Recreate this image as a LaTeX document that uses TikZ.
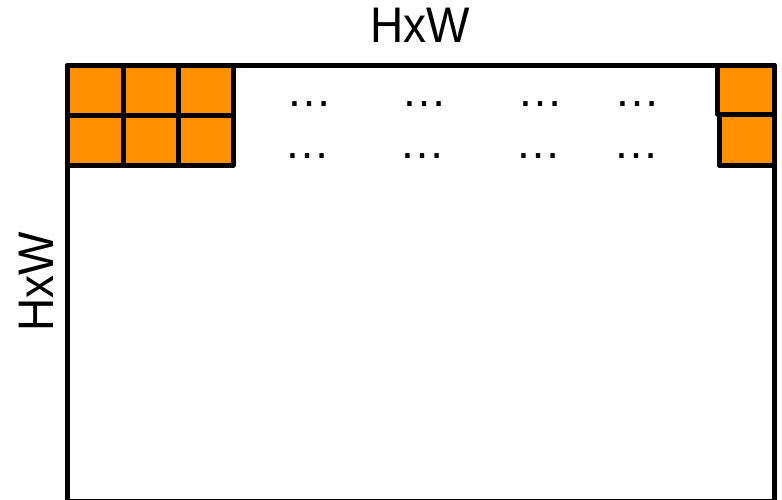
\documentclass[tikz,border=0pt]{standalone}
\usepackage{fontspec}
\setmainfont{Liberation Sans}
\newfontfamily\labelfont[FakeStretch=0.92]{Liberation Sans}
\definecolor{cellorange}{RGB}{255,145,0}
\begin{document}
\begin{tikzpicture}[x=1pt,y=-1pt,
  frame/.style={draw=black,line width=5pt,line join=round},
  cell/.style={draw=black,fill=cellorange,line width=5pt,line join=round},
  lbl/.style={font=\labelfont\fontsize{50}{54}\selectfont,inner sep=0pt},
  dots/.style={font=\fontsize{46}{50}\selectfont,inner sep=0pt,anchor=base}]
\useasboundingbox (0,0) rectangle (782,499);
% main frame
\draw[frame] (67.5,65.5) rectangle (774,501);
% left orange grid
\foreach \xa/\xb in {67.5/123,123/178.5,178.5/233}{
  \foreach \ya/\yb in {65.5/115,115/165}{
    \draw[cell] (\xa,\ya) rectangle (\xb,\yb);
  }
}
% right orange cells
\draw[cell] (717.5,65.5) rectangle (774,114);
\draw[cell] (719,114) rectangle (774,165);
% ellipses
\foreach \cx [count=\i] in {309,424,540,637.5}{
  \node[dots] (da\i) at (\cx,106.5) {…};
  \node[dots] (db\i) at (\cx-1.5,158) {…};
}
% labels
\node[lbl] (top) at (420.5,25) {HxW};
\node[lbl,rotate=90] (left) at (36,281.5) {HxW};
\end{tikzpicture}
\end{document}
